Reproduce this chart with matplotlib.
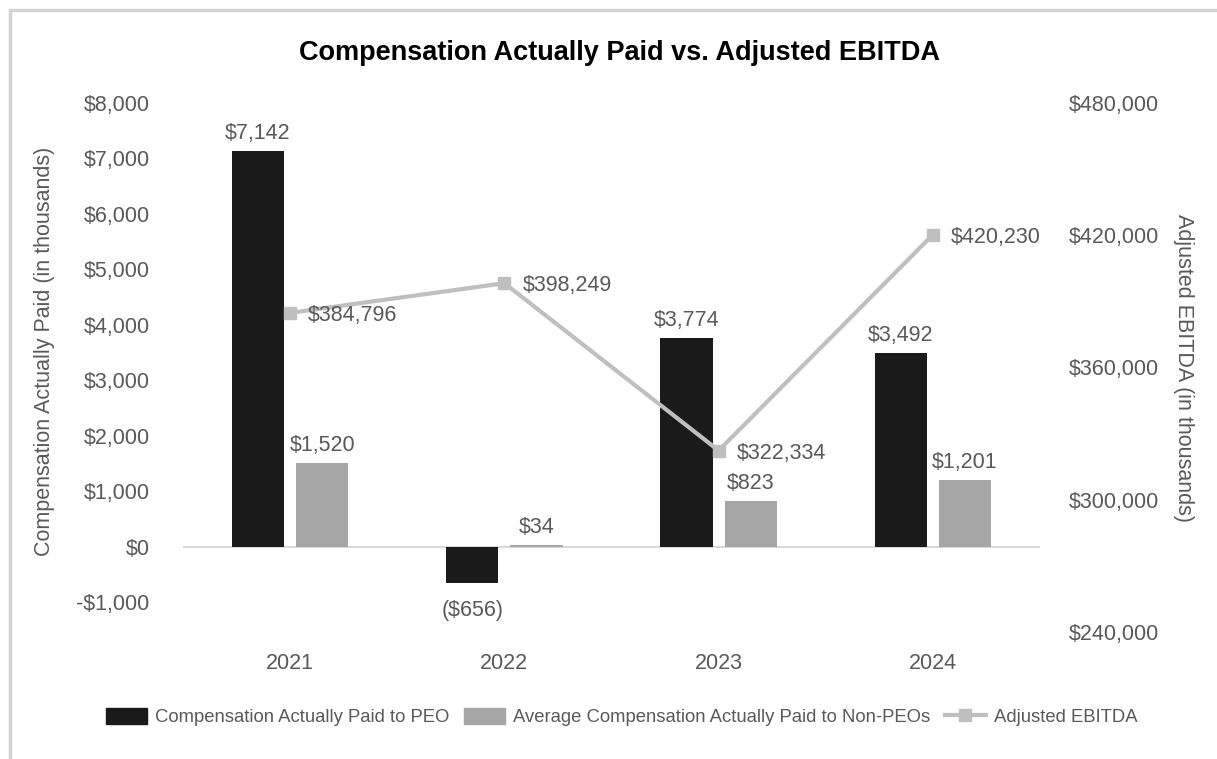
import matplotlib.pyplot as plt
import numpy as np
from matplotlib.patches import Rectangle
from matplotlib.lines import Line2D

plt.rcParams['font.family'] = ['Liberation Sans', 'DejaVu Sans']

years = ["2021", "2022", "2023", "2024"]
cap_peo = [7142, -656, 3774, 3492]
cap_non_peo = [1520, 34, 823, 1201]
adj_ebitda = [384796, 398249, 322334, 420230]

left_ticks = [-1000, 0, 1000, 2000, 3000, 4000, 5000, 6000, 7000, 8000]
right_ticks = [240000, 300000, 360000, 420000, 480000]

BLACK = '#1a1a1a'
GRAY_BAR = '#a6a6a6'
GRAY_LINE = '#bfbfbf'
TXT = '#595959'
FS = 15.5


def money(v):
    if v < 0:
        return f"(${-v:,.0f})"
    return f"${v:,.0f}"


def tick_money(v):
    if v < 0:
        return f"-${-v:,.0f}"
    return f"${v:,.0f}"


fig = plt.figure(figsize=(12.17, 7.59), dpi=100)
ax = fig.add_axes([183 / 1217, 1 - 632 / 759, 857 / 1217, 529 / 759])
ax2 = ax.twinx()

x = np.arange(len(years))
w = 0.243
off = 0.15

b1 = ax.bar(x - off, cap_peo, w, color=BLACK, zorder=2)
b2 = ax.bar(x + off, cap_non_peo, w, color=GRAY_BAR, zorder=2)
ax.axhline(0, color='#d9d9d9', lw=1.5, zorder=1)

ax.set_xlim(-0.5, len(years) - 0.5)
ax.set_ylim(-1532, 8000)
ax.set_yticks(left_ticks)
ax.set_yticklabels([tick_money(v) for v in left_ticks])
ax.set_xticks(x)
ax.set_xticklabels(years)
ax.tick_params(axis='y', length=0, pad=24, labelsize=FS, labelcolor=TXT)
ax.tick_params(axis='x', length=0, pad=15, labelsize=FS, labelcolor=TXT)
ax.set_ylabel("Compensation Actually Paid (in thousands)", fontsize=FS, color=TXT)
ax.yaxis.set_label_coords(-0.149, 0.53)

for bars, vals in ((b1, cap_peo), (b2, cap_non_peo)):
    for r, v in zip(bars, vals):
        cx = r.get_x() + r.get_width() / 2
        if v >= 0:
            ax.annotate(money(v), (cx, v), xytext=(0, 5), textcoords='offset points',
                        ha='center', va='bottom', fontsize=FS, color=TXT)
        else:
            ax.annotate(money(v), (cx, v), xytext=(0, -12), textcoords='offset points',
                        ha='center', va='top', fontsize=FS, color=TXT)

ax2.plot(x, adj_ebitda, color=GRAY_LINE, lw=3, marker='s', ms=8, zorder=3)
ax2.set_ylim(240000, 480000)
ax2.set_yticks(right_ticks)
ax2.set_yticklabels([tick_money(v) for v in right_ticks])
ax2.tick_params(axis='y', length=0, pad=21, labelsize=FS, labelcolor=TXT)
ax2.set_ylabel("Adjusted EBITDA (in thousands)", fontsize=FS, color=TXT, rotation=270, labelpad=25)
for xi, v in zip(x, adj_ebitda):
    ax2.annotate(money(v), (xi, v), xytext=(13, -2), textcoords='offset points',
                 ha='left', va='center', fontsize=FS, color=TXT)

for a in (ax, ax2):
    for s in a.spines.values():
        s.set_visible(False)

fig.text(0.509, 1 - 53 / 759, "Compensation Actually Paid vs. Adjusted EBITDA",
         ha='center', va='center', fontsize=19.5, fontweight='bold', color='black')

handles = [
    Rectangle((0, 0), 1, 1, color=BLACK),
    Rectangle((0, 0), 1, 1, color=GRAY_BAR),
    Line2D([0], [0], color=GRAY_LINE, lw=3, marker='s', ms=8),
]
labels = ["Compensation Actually Paid to PEO",
          "Average Compensation Actually Paid to Non-PEOs",
          "Adjusted EBITDA"]
leg = fig.legend(handles, labels, loc='center', bbox_to_anchor=(0.511, 1 - 717 / 759), ncol=3,
                 frameon=False, fontsize=13.3, handlelength=2.2, handleheight=1.0,
                 handletextpad=0.45, columnspacing=0.8)
for t in leg.get_texts():
    t.set_color(TXT)

# light frame around the chart
fig.patches.append(Rectangle((9.5 / 1217, -0.1), 1.2, 1 - 9.5 / 759 + 0.1,
                             transform=fig.transFigure, fill=False,
                             edgecolor='#d3d3d3', lw=2.5))

fig.savefig("out.png", dpi=100)
